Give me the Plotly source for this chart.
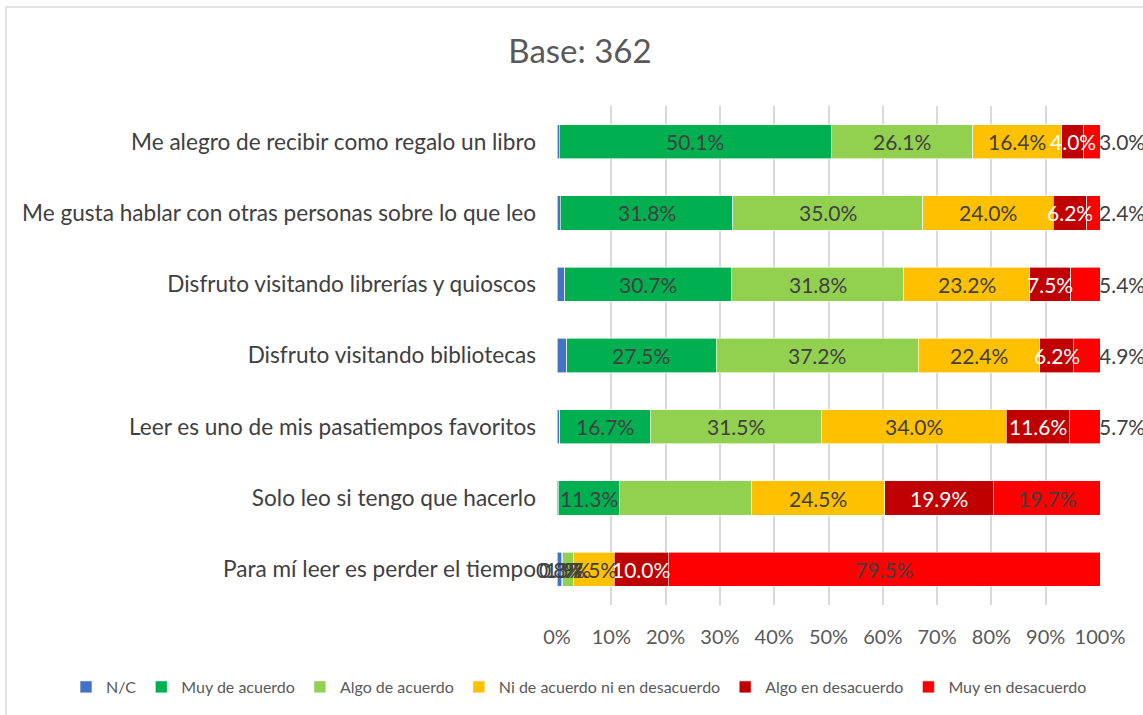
import plotly.graph_objects as go

categories = [
    "Me alegro de recibir como regalo un libro",
    "Me gusta hablar con otras personas sobre lo que leo",
    "Disfruto visitando librerías y quioscos",
    "Disfruto visitando bibliotecas",
    "Leer es uno de mis pasatiempos favoritos",
    "Solo leo si tengo que hacerlo",
    "Para mí leer es perder el tiempo",
]
series_names = ["N/C", "Muy de acuerdo", "Algo de acuerdo",
                "Ni de acuerdo ni en desacuerdo", "Algo en desacuerdo", "Muy en desacuerdo"]
nc = [0.4, 0.6, 1.4, 1.8, 0.5, 0.2, 0.8]
muy_acuerdo = [50.1, 31.8, 30.7, 27.5, 16.7, 11.3, 0.3]
algo_acuerdo = [26.1, 35.0, 31.8, 37.2, 31.5, 24.4, 1.9]
ni_ni = [16.4, 24.0, 23.2, 22.4, 34.0, 24.5, 7.5]
algo_desacuerdo = [4.0, 6.2, 7.5, 6.2, 11.6, 19.9, 10.0]
muy_desacuerdo = [3.0, 2.4, 5.4, 4.9, 5.7, 19.7, 79.5]
colors = ["#4472C4", "#00B050", "#92D050", "#FFC000", "#C00000", "#FF0000"]
text_colors = ["#404040", "#404040", "#404040", "#404040", "#FFFFFF", "#404040"]
# which rows show labels (N/C only shown in last row; Algo de acuerdo hidden in "Solo leo")
show_nc = [False, False, False, False, False, False, True]
show_algo = [True, True, True, True, True, False, True]

data = [nc, muy_acuerdo, algo_acuerdo, ni_ni, algo_desacuerdo, muy_desacuerdo]

FONT = "Lato"
fig = go.Figure()
for i, (name, vals) in enumerate(zip(series_names, data)):
    fig.add_trace(go.Bar(
        y=categories, x=vals, name=name, orientation="h",
        marker=dict(color=colors[i], line=dict(width=0.6, color="white")),
        hoverinfo="skip",
    ))

# data labels as annotations centred on each segment (positions from cumulative data);
# small last segments get their label pushed past the bar end (as in the original)
annotations = []
cum = [0.0] * len(categories)
last = len(data) - 1
for i, vals in enumerate(data):
    for j, v in enumerate(vals):
        show = True
        if i == 0 and not show_nc[j]:
            show = False
        if i == 2 and not show_algo[j]:
            show = False
        if show:
            ann = dict(
                x=cum[j] + v / 2, y=categories[j], xref="x", yref="y",
                text=f"{v:.1f}%", showarrow=False,
                font=dict(size=21, color=text_colors[i], family=FONT),
            )
            if i == last and v < 7:
                end = min(round(cum[j] + v, 6), 100.0)
                ann.update(x=end, xanchor="left", xshift=-3)
            annotations.append(ann)
        cum[j] += v

L, R, T, B = 557, 1100, 106, 605
W, H = 1143, 715
pw, ph = R - L, B - T
fig.update_layout(
    width=W, height=H, barmode="stack", bargap=0.52,
    margin=dict(l=L, r=W - R, t=T, b=H - B, autoexpand=False),
    paper_bgcolor="white", plot_bgcolor="white",
    font=dict(family=FONT, color="#404040"),
    title=dict(text="Base: 362", x=580 / W, xref="container", xanchor="center",
               y=1 - 51 / H, yref="container", yanchor="middle",
               font=dict(size=33, color="#595959", family=FONT)),
    xaxis=dict(range=[0, 100], tickvals=list(range(0, 101, 10)),
               ticktext=[f"{v}%" for v in range(0, 101, 10)],
               showgrid=True, gridcolor="#D9D9D9", gridwidth=1.5,
               zeroline=False, showline=False, ticks="",
               tickfont=dict(size=20, color="#595959"), ticklabelstandoff=18,
               fixedrange=True),
    yaxis=dict(autorange="reversed", showgrid=False, ticks="",
               tickfont=dict(size=22.6, color="#404040"), ticklabelstandoff=20),
    legend=dict(orientation="h", xref="paper", x=(66 - L) / pw, xanchor="left",
                yref="paper", y=-(687 - B) / ph, yanchor="middle",
                font=dict(size=16, color="#595959", family=FONT), traceorder="normal",
                itemwidth=30, tracegroupgap=0),
    showlegend=True,
    annotations=annotations,
)
fig.add_shape(type="rect", xref="paper", yref="paper",
              x0=-(L - 6) / pw, x1=(W + 10 - L) / pw,
              y0=-(H + 10 - B) / ph, y1=1 + (T - 7) / ph,
              line=dict(color="#D9D9D9", width=1.5), layer="below")
fig.write_html("out.html", config={"displayModeBar": False},
               post_script="document.body.style.margin='0px';")
